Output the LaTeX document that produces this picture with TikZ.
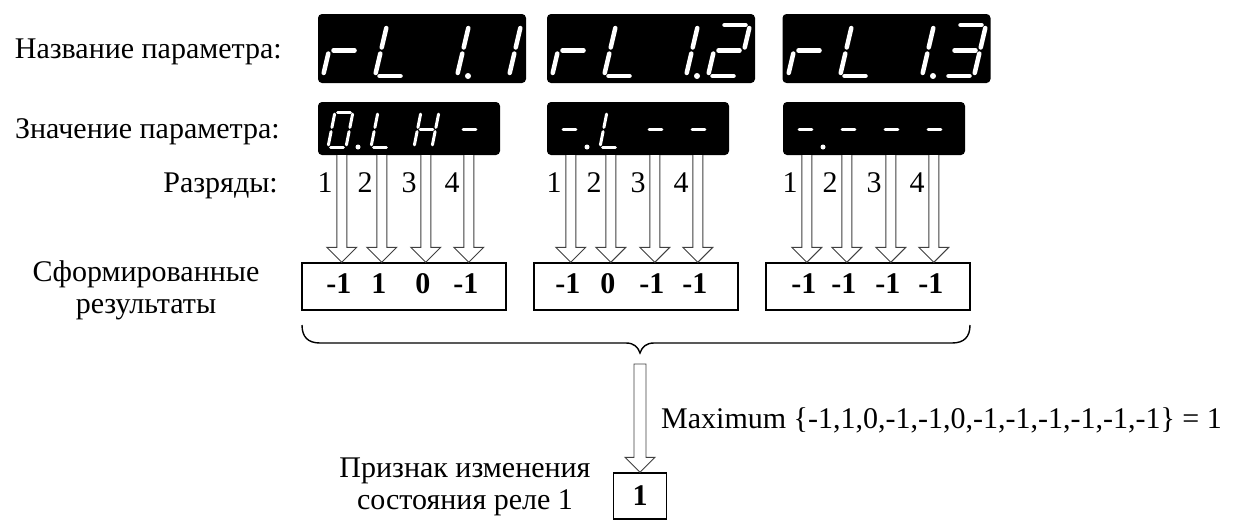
\documentclass[tikz,border=0pt]{standalone}
\usepackage{fontspec}
\setmainfont{Liberation Serif}
\usetikzlibrary{calc}

\tikzset{
  display/.style={fill=black, rounded corners=4pt, inner sep=0pt},
  resbox/.style={draw, line width=1.4pt, inner sep=0pt},
  arrowline/.style={draw=black!75, line width=0.9pt, fill=white},
  txt/.style={inner sep=0pt},
  num/.style={font=\bfseries, anchor=base, inner sep=0pt},
  big digit/.style={x={(30pt,0pt)}, y={(12pt,51pt)},
    segline/.style={white, line width=4.5pt, line cap=round},
    segdot/.style={white, xshift=11pt, radius=3pt}},
  small digit/.style={x={(18pt,0pt)}, y={(7pt,35pt)},
    segline/.style={white, line width=3pt, line cap=round},
    segdot/.style={white, xshift=12pt, radius=2.5pt}},
}

% segments of a seven segment digit, unit square with slant
\newcommand\dsega{\draw[segline] (0.15,1) -- (0.85,1);}
\newcommand\dsegb{\draw[segline] (1,0.94) -- (1,0.56);}
\newcommand\dsegc{\draw[segline] (1,0.44) -- (1,0.06);}
\newcommand\dsegd{\draw[segline] (0.15,0) -- (0.85,0);}
\newcommand\dsege{\draw[segline] (0,0.44) -- (0,0.06);}
\newcommand\dsegf{\draw[segline] (0,0.94) -- (0,0.56);}
\newcommand\dsegg{\draw[segline] (0.15,0.5) -- (0.85,0.5);}
\newcommand\dsegp{\fill[segdot] (1,0) circle;}
\newcommand\segdigit[3]{\begin{scope}[shift={#2},#1]
  \foreach \s in {#3} {\csname dseg\s\endcsname}
\end{scope}}

% hollow arrow from #2 down to tip #3, shaft half width #4
\newcommand\hollowarrow[4][]{\draw[arrowline] ($(#2)+(-#4,0)$) -- ($(#3)+(-#4,-15)$)
  -- ($(#3)+(-15,-15)$) -- (#3) -- ($(#3)+(15,-15)$) -- ($(#3)+(#4,-15)$)
  -- ($(#2)+(#4,0)$) #1;}

\begin{document}
\begin{tikzpicture}[x=1pt,y=-1pt]
\fontsize{30}{32}\selectfont
\useasboundingbox (0,0) rectangle (1234,528);

% displays
\node[display, minimum width=208pt, minimum height=69pt] (n1) at (422,48.5) {};
\node[display, minimum width=208pt, minimum height=69pt] (n2) at (651,48.5) {};
\node[display, minimum width=208pt, minimum height=69pt] (n3) at (886.5,48.5) {};
\node[display, minimum width=182pt, minimum height=53pt] (v1) at (409,128.5) {};
\node[display, minimum width=182pt, minimum height=53pt] (v2) at (638,128.5) {};
\node[display, minimum width=182pt, minimum height=53pt] (v3) at (874,128.5) {};

% parameter names rL 1.x
\foreach \X in {318,547,783} {
  \segdigit{big digit}{(\X+5,76)}{e,g}
  \segdigit{big digit}{(\X+57,76)}{f,e,d}
  \segdigit{big digit}{(\X+109,76)}{b,c,p}
}
\segdigit{big digit}{(479,76)}{b,c}
\segdigit{big digit}{(708,76)}{a,b,g,e,d}
\segdigit{big digit}{(944,76)}{a,b,g,c,d}

% parameter values
\segdigit{small digit}{(328,147)}{a,b,c,d,e,f,p}
\segdigit{small digit}{(371,147)}{f,e,d}
\segdigit{small digit}{(414,147)}{b,c,e,f,g}
\segdigit{small digit}{(457,147)}{g}
\segdigit{small digit}{(557,147)}{g,p}
\segdigit{small digit}{(600,147)}{f,e,d}
\segdigit{small digit}{(643,147)}{g}
\segdigit{small digit}{(686,147)}{g}
\segdigit{small digit}{(793,147)}{g,p}
\segdigit{small digit}{(836,147)}{g}
\segdigit{small digit}{(879,147)}{g}
\segdigit{small digit}{(922,147)}{g}

% result boxes
\node[resbox, minimum width=204pt, minimum height=47pt] (b1) at (404,286.5) {};
\node[resbox, minimum width=204pt, minimum height=47pt] (b2) at (636,286.5) {};
\node[resbox, minimum width=204pt, minimum height=47pt] (b3) at (868,286.5) {};
\node[resbox, minimum width=53pt, minimum height=46pt, font=\bfseries] (r) at (640,496) {1};

% digit arrows
\foreach \d in {1,2,3} {
  \foreach \i/\off in {1/24,2/64,3/108,4/151} {
    \coordinate (s\d\i) at ($(v\d.south west)+(\off,0)$);
    \coordinate (t\d\i) at (s\d\i |- b\d.north);
    \hollowarrow{s\d\i}{t\d\i}{5}
    \node[txt, anchor=base east] (k\d\i) at ($(s\d\i)+(-9,37)$) {\i};
  }
}

\foreach \i/\val in {1/-1,2/1,3/0,4/-1} \node[num] at ($(t1\i)+(-3,31)$) {\val};
\foreach \i/\val in {1/-1,2/0,3/-1,4/-1} \node[num] at ($(t2\i)+(-3,31)$) {\val};
\foreach \i/\val in {1/-1,2/-1,3/-1,4/-1} \node[num] at ($(t3\i)+(-3,31)$) {\val};

% brace and maximum
\draw[line width=1.4pt] (302,325) .. controls (302,337) and (308,343) .. (320,343)
  -- (626,343) .. controls (634,343) and (638,347) .. (640,353)
  .. controls (642,347) and (646,343) .. (654,343)
  -- (952,343) .. controls (964,343) and (970,337) .. (970,325);
\coordinate (tip) at (640,364);
\hollowarrow[-- cycle]{tip}{r.north}{6}

% labels
\node[txt, anchor=base east] (lname) at (282,58) {Название параметра:};
\node[txt, anchor=base east] (lvalue) at (280,138) {Значение параметра:};
\node[txt, anchor=base east] (ldigits) at (278,192) {Разряды:};
\node[txt, align=center] (lresults) at (146,290) {Сформированные\\результаты};
\node[txt, align=center] (lrelay) at (465,487) {Признак изменения\\состояния реле 1};
\node[txt, anchor=base west] (lmax) at (661,428) {Maximum \{-1,1,0,-1,-1,0,-1,-1,-1,-1,-1,-1\} = 1};
\end{tikzpicture}
\end{document}
